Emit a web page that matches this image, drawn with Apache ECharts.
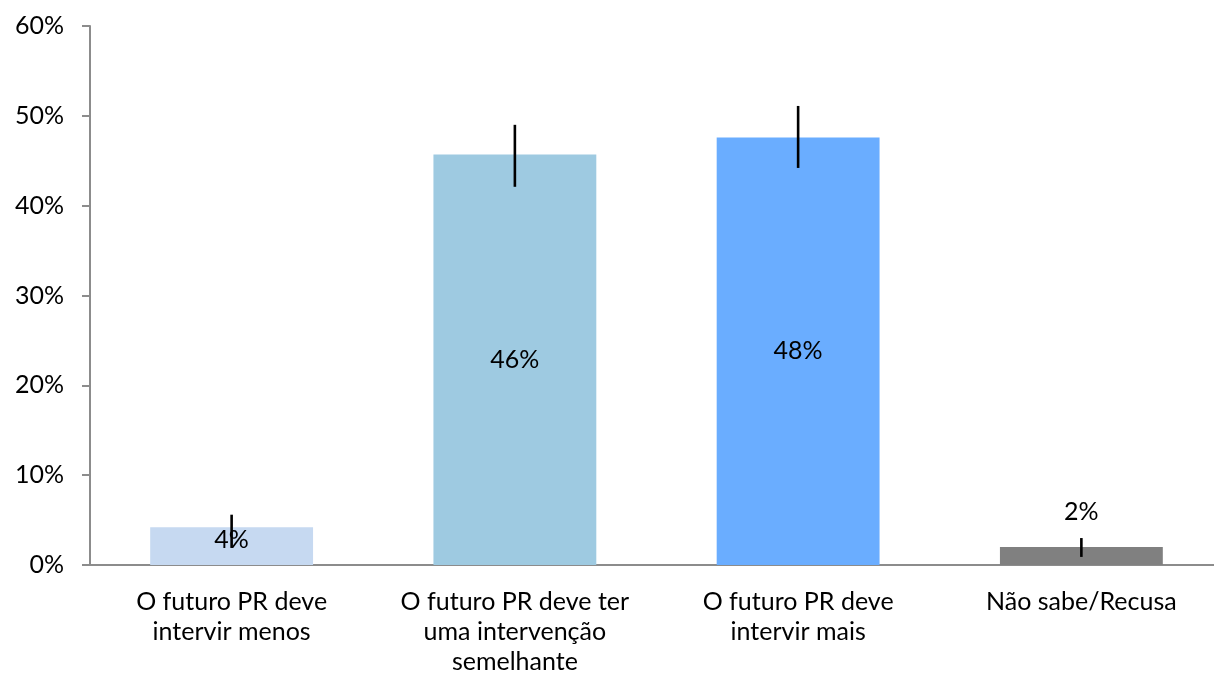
<!DOCTYPE html>
<html>
<head>
<meta charset="utf-8">
<script src="https://cdn.jsdelivr.net/npm/echarts@6/dist/echarts.min.js"></script>
<style>html,body{margin:0;padding:0;background:#fff;overflow:hidden}#c{width:1223px;height:677px}</style>
</head>
<body>
<div id="c"></div>
<script>
const categories = [
  "O futuro PR deve\nintervir menos",
  "O futuro PR deve ter\numa intervenção\nsemelhante",
  "O futuro PR deve\nintervir mais",
  "Não sabe/Recusa"
];
const values = [4.2, 45.7, 47.6, 2.0];
const errLow = [1.9, 42.1, 44.2, 0.9];
const errHigh = [5.6, 49.0, 51.1, 3.0];
const valueLabels = ["4%", "46%", "48%", "2%"];
const barColors = ["#c6d9f1", "#9ecae1", "#6aadff", "#808080"];
const yTicks = [0, 10, 20, 30, 40, 50, 60];

const FONT = "Lato";
const chart = echarts.init(document.getElementById('c'), null, {renderer: 'canvas'});

const barData = values.map((v, i) => ({value: v, itemStyle: {color: barColors[i]}}));
const labelData = values.map((v, i) => {
  const item = {value: v, label: {show: true, formatter: valueLabels[i]}};
  if (i === 3) { item.label.position = 'top'; item.label.distance = 23; }
  else { item.label.position = 'inside'; }
  if (i === 0) { item.label.offset = [0, -6]; }
  return item;
});

chart.setOption({
  animation: false,
  grid: {left: 90, right: 0, top: 26, bottom: 109, containLabel: false},
  xAxis: {
    type: 'category',
    data: categories,
    axisLine: {lineStyle: {color: '#8c8c8c', width: 2}},
    axisTick: {show: false},
    axisLabel: {color: '#000', fontFamily: FONT, fontSize: 25, lineHeight: 30, margin: 22, interval: 0}
  },
  yAxis: {
    type: 'value',
    min: yTicks[0], max: yTicks[yTicks.length - 1], interval: 10,
    splitLine: {show: false},
    axisLine: {show: true, lineStyle: {color: '#8c8c8c', width: 2}},
    axisTick: {show: true, length: 8, lineStyle: {color: '#8c8c8c', width: 2}},
    axisLabel: {color: '#000', fontFamily: FONT, fontSize: 25, margin: 26, formatter: v => v + '%'}
  },
  series: [
    {
      type: 'bar', data: barData, barWidth: '57.5%', z: 1, silent: true
    },
    {
      type: 'custom', z: 2, silent: true,
      data: errLow.map((l, i) => [i, l, errHigh[i]]),
      renderItem: function (params, api) {
        const p1 = api.coord([api.value(0), api.value(1)]);
        const p2 = api.coord([api.value(0), api.value(2)]);
        return {type: 'line', shape: {x1: p1[0], y1: p1[1], x2: p2[0], y2: p2[1]},
          style: {stroke: '#000', lineWidth: 2.6}};
      }
    },
    {
      type: 'bar', data: labelData, barWidth: '57.5%', barGap: '-100%', z: 3, silent: true,
      itemStyle: {color: 'rgba(0,0,0,0)'},
      label: {color: '#000', fontFamily: FONT, fontSize: 25}
    }
  ]
});
</script>
</body>
</html>
